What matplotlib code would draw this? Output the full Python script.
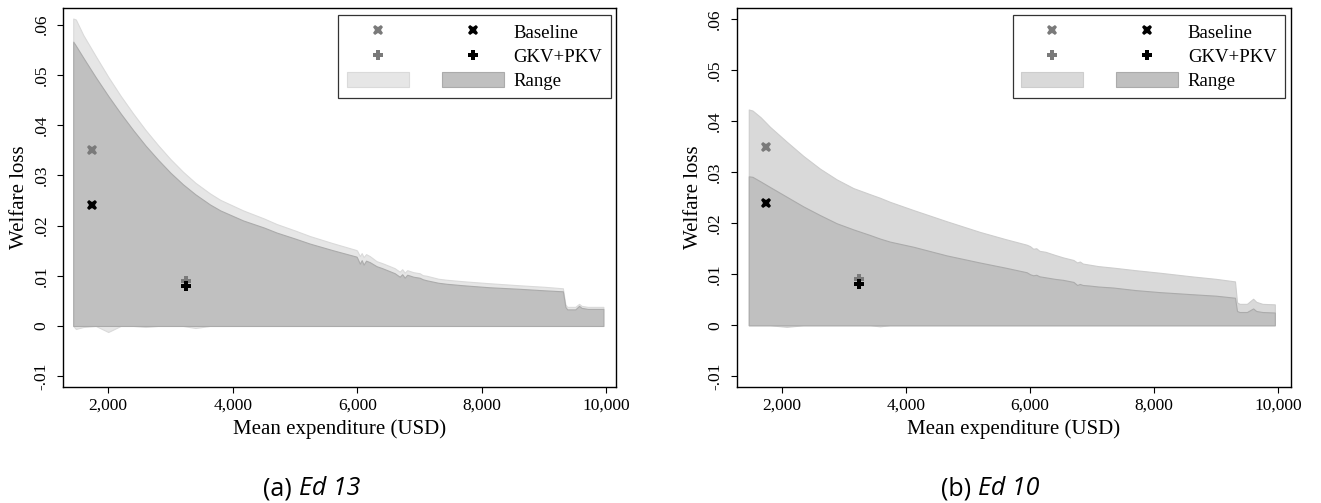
"""Welfare loss against mean expenditure, two education groups (Ed 13, Ed 10)."""

import matplotlib
matplotlib.use('Agg')

import matplotlib.pyplot as plt
from matplotlib.lines import Line2D
from matplotlib.patches import Patch


# ----------------------------------------------------------------- data ----

# (a) Ed 13
x_a = [1438, 1480, 1600, 1800, 2000, 2200, 2400, 2600, 2800, 3000, 3200,
       3400, 3632, 3800, 4167, 4500, 4703, 5000, 5237, 5600, 5987,
       6000, 6040, 6070, 6100, 6140, 6200, 6308, 6400, 6521, 6600, 6680,
       6720, 6760, 6800, 6900, 7000, 7050, 7110, 7300, 7431, 7700, 7913,
       8126, 8600, 9000, 9300, 9340, 9370, 9500, 9560, 9600, 9700, 9950]
light_hi_a = [0.0612, 0.0610, 0.0579, 0.0537, 0.0496, 0.0458, 0.0423,
              0.0390, 0.0360, 0.0332, 0.0307, 0.0285, 0.0264, 0.0251,
              0.0230, 0.0214, 0.0203, 0.0190, 0.0179, 0.0165, 0.0151,
              0.0149, 0.0139, 0.0145, 0.0137, 0.0143, 0.0139,
              0.0129, 0.0125, 0.0119, 0.0115, 0.0108, 0.0113, 0.0106,
              0.0111, 0.0107, 0.0105, 0.0101, 0.0100, 0.0094, 0.0092,
              0.0089, 0.0087, 0.0085, 0.0081, 0.0078, 0.0075, 0.0043,
              0.0038, 0.0038, 0.0044, 0.0040, 0.0038, 0.0038]
light_lo_a = [0, -0.0006, -0.0002, 0, -0.0012, 0, 0, -0.0002, 0, 0, 0,
              -0.0004, 0, 0, 0, 0, 0, 0, 0, 0, 0,
              0, 0, 0, 0, 0, 0, 0, 0, 0, 0, 0, 0, 0, 0, 0, 0, 0, 0, 0,
              0, 0, 0, 0, 0, 0, 0, 0, 0, 0, 0, 0, 0, 0]
dark_hi_a = [0.0566, 0.0558, 0.0534, 0.0495, 0.0458, 0.0423, 0.0390,
             0.0359, 0.0331, 0.0305, 0.0282, 0.0262, 0.0242, 0.0230,
             0.0210, 0.0196, 0.0186, 0.0174, 0.0164, 0.0151, 0.0138,
             0.0135, 0.0124, 0.0131, 0.0122, 0.0130, 0.0127,
             0.0119, 0.0115, 0.0109, 0.0105, 0.0098, 0.0103, 0.0096,
             0.0102, 0.0098, 0.0096, 0.0093, 0.0091, 0.0086, 0.0084,
             0.0081, 0.0079, 0.0077, 0.0074, 0.0071, 0.0069, 0.0038,
             0.0033, 0.0033, 0.0040, 0.0036, 0.0034, 0.0034]

# (b) Ed 10
x_b = [1460, 1520, 1650, 1803, 2072, 2341, 2610, 2879, 3147, 3416, 3577,
       3739, 4115, 4653, 5191, 5600, 5944, 6000, 6050, 6100, 6150, 6250,
       6400, 6534, 6700, 6760, 6803, 6850, 6950, 7100, 7340, 7700, 8094,
       8600, 9000, 9307, 9340, 9380, 9500, 9600, 9650, 9750, 9950]
light_hi_b = [0.0423, 0.0421, 0.0408, 0.0389, 0.0360, 0.0332, 0.0307,
              0.0286, 0.0269, 0.0257, 0.0250, 0.0242, 0.0226, 0.0204,
              0.0183, 0.0169, 0.0158, 0.0155, 0.0150, 0.0151, 0.0146,
              0.0144, 0.0138, 0.0133, 0.0128, 0.0123, 0.0125, 0.0121,
              0.0119, 0.0116, 0.0113, 0.0108, 0.0103, 0.0096, 0.0091,
              0.0086, 0.0045, 0.0042, 0.0042, 0.0052, 0.0046, 0.0042,
              0.0041]
light_lo_b = [0, 0, 0, 0, -0.0003, 0, 0, 0, 0, 0, -0.0002, 0, 0, 0, 0,
              0, 0, 0, 0, 0, 0, 0, 0, 0, 0, 0, 0, 0, 0, 0, 0, 0, 0, 0,
              0, 0, 0, 0, 0, 0, 0, 0, 0]
dark_hi_b = [0.0292, 0.0291, 0.0282, 0.0271, 0.0252, 0.0233, 0.0216,
             0.0200, 0.0188, 0.0177, 0.0170, 0.0164, 0.0154, 0.0137,
             0.0123, 0.0113, 0.0104, 0.0100, 0.0098, 0.0099, 0.0096,
             0.0094, 0.0091, 0.0089, 0.0085, 0.0079, 0.0081, 0.0079,
             0.0078, 0.0076, 0.0074, 0.0069, 0.0065, 0.0061, 0.0058,
             0.0054, 0.0028, 0.0026, 0.0026, 0.0033, 0.0028, 0.0026,
             0.0025]

# point estimates, identical in both panels
baseline_x = 1740
baseline_gray, baseline_black = 0.035, 0.024
gkv_x = 3245
gkv_gray, gkv_black = 0.009, 0.008

xticks = [2000, 4000, 6000, 8000, 10000]
xticklabels = ['2,000', '4,000', '6,000', '8,000', '10,000']
yticks = [-0.01, 0, 0.01, 0.02, 0.03, 0.04, 0.05, 0.06]
yticklabels = ['-.01', '0', '.01', '.02', '.03', '.04', '.05', '.06']

caption_tags = ['(a)', '(b)']
caption_names = ['Ed 13', 'Ed 10']


# ---------------------------------------------------------------- style ----

plt.rcParams['font.family'] = ['Liberation Serif', 'DejaVu Serif']

GRAY = '#7a7a7a'
DARK_FILL = '#c0c0c0'
DARK_EDGE = '#ababab'


def draw_panel(ax, x, light_lo, light_hi, dark_hi, light_fill, light_edge,
               xlim, ylim):
    """Draw the two range bands, the four point estimates and the legend."""
    ax.fill_between(x, light_lo, light_hi, facecolor=light_fill,
                    edgecolor=light_edge, linewidth=0.8, zorder=1)
    ax.fill_between(x, 0, dark_hi, facecolor=DARK_FILL,
                    edgecolor=DARK_EDGE, linewidth=0.8, zorder=2)

    ms = 7.5
    ax.plot([baseline_x], [baseline_gray], 'X', color=GRAY, ms=ms, mew=0,
            zorder=3)
    ax.plot([baseline_x], [baseline_black], 'X', color='black', ms=ms, mew=0,
            zorder=3)
    ax.plot([gkv_x], [gkv_gray], 'P', color=GRAY, ms=ms, mew=0, zorder=3)
    ax.plot([gkv_x], [gkv_black], 'P', color='black', ms=ms, mew=0, zorder=4)

    ax.set_xlim(*xlim)
    ax.set_ylim(*ylim)
    ax.set_xticks(xticks)
    ax.set_xticklabels(xticklabels)
    ax.set_yticks(yticks)
    ax.set_yticklabels(yticklabels, rotation=90, va='center')
    ax.tick_params(direction='out', length=4, width=0.8, labelsize=12.5,
                   pad=4)
    ax.tick_params(axis='y', pad=6)
    for spine in ax.spines.values():
        spine.set_linewidth(1.0)
        spine.set_color('black')

    ax.set_xlabel('Mean expenditure (USD)', fontsize=15, labelpad=4)
    ax.set_ylabel('Welfare loss', fontsize=15, labelpad=3)

    handles = [
        Line2D([], [], ls='none', marker='X', color=GRAY, ms=ms, mew=0),
        Line2D([], [], ls='none', marker='P', color=GRAY, ms=ms, mew=0),
        Patch(facecolor=light_fill, edgecolor=light_edge, linewidth=0.8),
        Line2D([], [], ls='none', marker='X', color='black', ms=ms, mew=0),
        Line2D([], [], ls='none', marker='P', color='black', ms=ms, mew=0),
        Patch(facecolor=DARK_FILL, edgecolor=DARK_EDGE, linewidth=0.8),
    ]
    labels = ['', '', '', 'Baseline', 'GKV+PKV', 'Range']
    leg = ax.legend(handles, labels, ncol=2, loc='upper right',
                    bbox_to_anchor=(0.990, 0.982), borderaxespad=0,
                    fontsize=13.5, frameon=True, fancybox=False,
                    handlelength=3.3, handleheight=0.9,
                    handletextpad=0.52, columnspacing=1.25,
                    labelspacing=0.32, borderpad=0.45)
    leg.get_frame().set_edgecolor('black')
    leg.get_frame().set_linewidth(0.9)


def add_caption(fig, xc, yc, tag, name, size=18):
    """Centre '(tag) name' at (xc, yc), with the name in italics."""
    t1 = fig.text(0, yc, tag, fontsize=size, family='Open Sans',
                  ha='left', va='baseline')
    t2 = fig.text(0, yc, name, fontsize=size, family='Open Sans',
                  style='italic', ha='left', va='baseline')
    renderer = fig.canvas.get_renderer()
    w1 = t1.get_window_extent(renderer).width
    w2 = t2.get_window_extent(renderer).width
    gap = 0.28 * size * fig.dpi / 72
    width_px = fig.get_figwidth() * fig.dpi
    x0 = xc * width_px - (w1 + gap + w2) / 2
    t1.set_x(x0 / width_px)
    t2.set_x((x0 + w1 + gap) / width_px)


# ----------------------------------------------------------------- plot ----

fig = plt.figure(figsize=(13.21, 5.03), dpi=100)
ax_a = fig.add_axes([0.0479, 0.2306, 0.4186, 0.7535])
ax_b = fig.add_axes([0.5579, 0.2306, 0.4191, 0.7535])

draw_panel(ax_a, x_a, light_lo_a, light_hi_a, dark_hi_a,
           '#e6e6e6', '#dadada', (1278, 10157), (-0.01215, 0.0633))
draw_panel(ax_b, x_b, light_lo_b, light_hi_b, dark_hi_b,
           '#d9d9d9', '#cdcdcd', (1270, 10205), (-0.0121, 0.0622))

add_caption(fig, 312 / 1321, 1 - 495 / 503, caption_tags[0], caption_names[0])
add_caption(fig, 990 / 1321, 1 - 495 / 503, caption_tags[1], caption_names[1])

fig.savefig('out.png', dpi=100)
